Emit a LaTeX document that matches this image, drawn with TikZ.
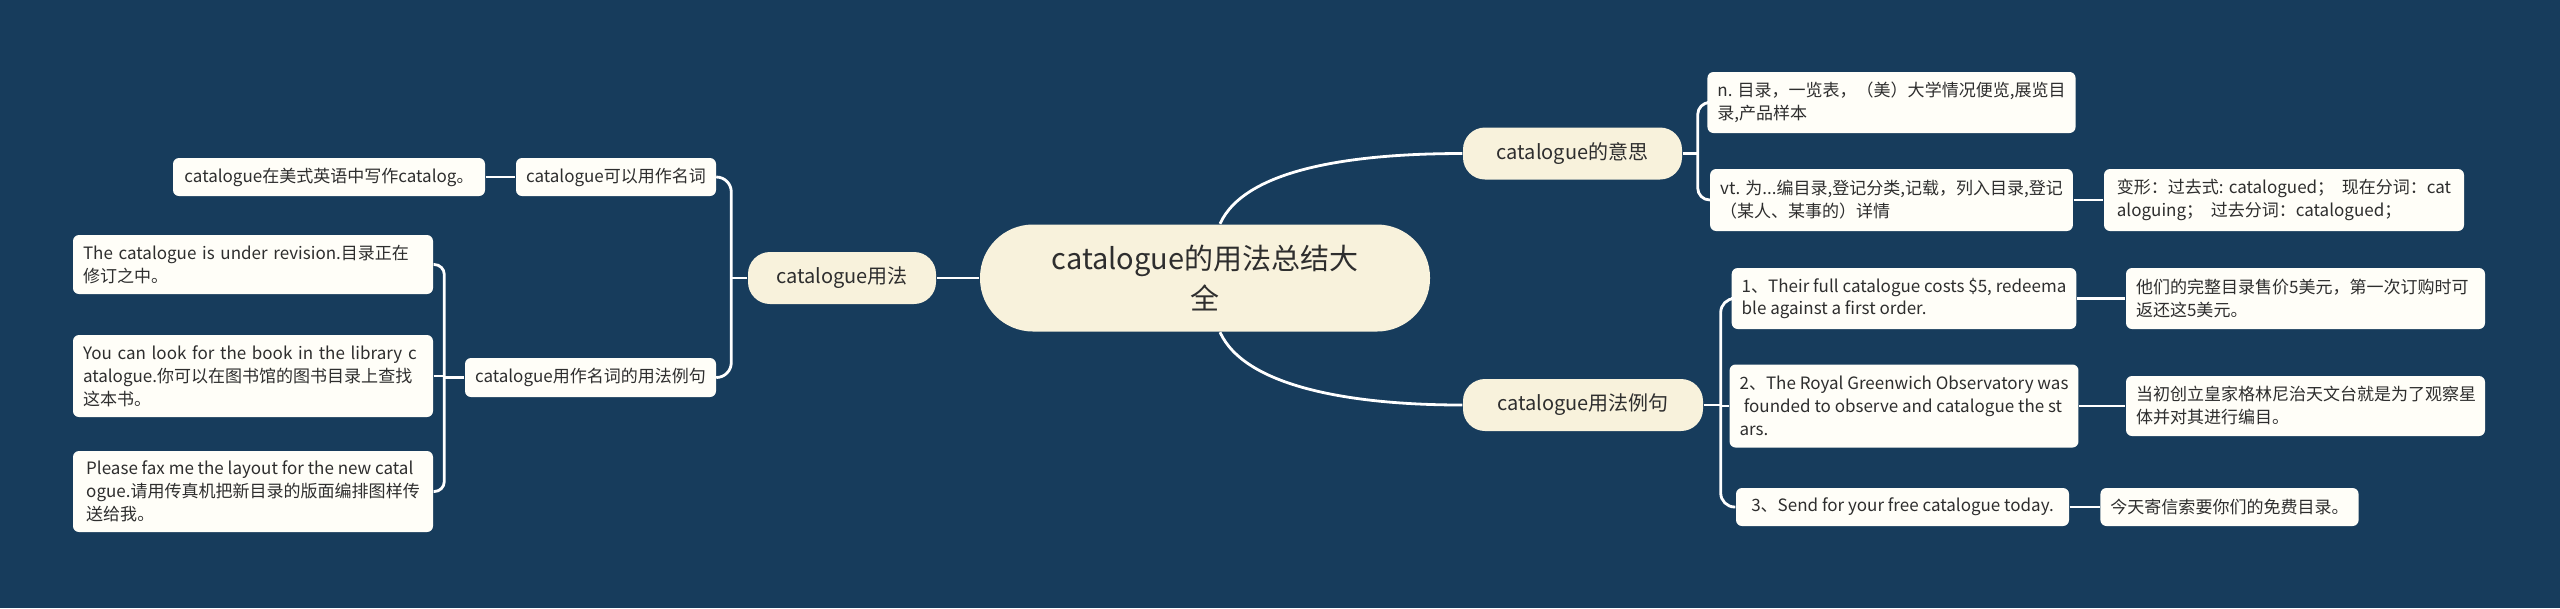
\documentclass[tikz,border=0pt]{standalone}
\usepackage{fontspec}
\setmainfont{Noto Sans CJK SC}
\usepackage{xcolor}
\definecolor{bgblue}{HTML}{173C5C}
\definecolor{cream}{HTML}{F8F2DC}
\definecolor{leaffill}{HTML}{FFFEF8}
\definecolor{inkgray}{HTML}{2E2E2E}

\begin{document}
\begin{tikzpicture}[
    central/.style={fill=cream, rounded corners=0.53cm, minimum width=4.5cm,
                    minimum height=1.07cm, align=center, text=inkgray,
                    font=\fontsize{8.25}{11.4}\selectfont},
    topic/.style={fill=cream, rounded corners=0.22cm, minimum height=0.52cm,
                  inner xsep=0.2cm, text=inkgray,
                  font=\fontsize{5.69}{6.8}\selectfont},
    leaf/.style={fill=leaffill, rounded corners=0.06cm, align=left,
                 inner xsep=0.1cm, inner ysep=0.06cm, text=inkgray,
                 font=\fontsize{4.84}{6.54}\selectfont},
    link/.style={draw=white, line width=0.028cm},
]

% Fondo
\fill[bgblue] (0,0) rectangle (25.6,-6.08);
\useasboundingbox (0,0) rectangle (25.6,-6.08);

% Centro
\node[central] (root) at (12.05, -2.78) {catalogue的用法总结大\\全};

% Rama izquierda
\node[topic, minimum width=1.88cm] (use) at (8.42, -2.78) {catalogue用法};
\node[leaf, minimum width=2.00cm, minimum height=0.38cm] (noun) at (6.16, -1.77) {catalogue可以用作名词};
\node[leaf, minimum width=3.12cm, minimum height=0.38cm] (usnote) at (3.29, -1.77) {catalogue在美式英语中写作catalog。};
\node[leaf, minimum width=2.51cm, minimum height=0.39cm] (nounex) at (5.905, -3.775) {catalogue用作名词的用法例句};

\node[leaf, text width=3.40cm, minimum height=0.59cm] (ex1) at (2.53, -2.645) {The catalogue is under revision.目录正在\\修订之中。};
\node[leaf, text width=3.40cm, minimum height=0.82cm] (ex2) at (2.53, -3.76) {You can look for the book in the library c\\atalogue.你可以在图书馆的图书目录上查找\\这本书。};
\node[leaf, minimum width=3.60cm, minimum height=0.81cm] (ex3) at (2.53, -4.915) {Please fax me the layout for the new catal\\ogue.请用传真机把新目录的版面编排图样传\\送给我。};

% Rama derecha: significado
\node[topic, minimum width=2.19cm] (mean) at (15.725, -1.535) {catalogue的意思};
\node[leaf, minimum width=3.61cm, minimum height=0.61cm] (ndef) at (18.915, -1.025) {n. 目录，一览表，（美）大学情况便览,展览目\\录,产品样本};
\node[leaf, minimum width=3.61cm, minimum height=0.62cm] (vtdef) at (18.915, -2.00) {vt. 为...编目录,登记分类,记载，列入目录,登记\\（某人、某事的）详情};
\node[leaf, minimum width=3.60cm, minimum height=0.62cm] (forms) at (22.84, -2.00) {变形：过去式: catalogued；\ \ 现在分词：cat\\aloguing；\ \ 过去分词：catalogued；};

% Rama derecha: ejemplos
\node[topic, minimum width=2.40cm] (examples) at (15.83, -4.05) {catalogue用法例句};
\node[leaf, minimum width=3.36cm, minimum height=0.61cm] (s1) at (19.04, -2.985) {1、Their full catalogue costs \$5, redeema\\ble against a first order.};
\node[leaf, text width=3.39cm, minimum height=0.61cm] (t1) at (23.055, -2.985) {他们的完整目录售价5美元，第一次订购时可\\返还这5美元。};
\node[leaf, minimum width=3.36cm, minimum height=0.83cm] (s2) at (19.04, -4.06) {2、The Royal Greenwich Observatory was\\\hspace*{0.25em}founded to observe and catalogue the st\\ars.};
\node[leaf, text width=3.39cm, minimum height=0.60cm] (t2) at (23.055, -4.06) {当初创立皇家格林尼治天文台就是为了观察星\\体并对其进行编目。};
\node[leaf, minimum width=3.33cm, minimum height=0.38cm] (s3) at (19.025, -5.07) {3、Send for your free catalogue today.};
\node[leaf, minimum width=2.57cm, minimum height=0.38cm] (t3) at (22.295, -5.07) {今天寄信索要你们的免费目录。};

% Conexiones centro
\draw[link] (root.west) -- (use.east);
\draw[link] ([xshift=0.15cm]root.north) .. controls +(0.25,0.55) and +(-1.1,0) .. (mean.west);
\draw[link] ([xshift=0.15cm]root.south) .. controls +(0.25,-0.55) and +(-1.1,0) .. (examples.west);

% Conexiones izquierda
\coordinate (useBar) at ([xshift=-0.16cm]use.west);
\draw[link] (use.west) -- (useBar);
\draw[link, rounded corners=0.15cm] (noun.east) -| (useBar) |- (nounex.east);
\draw[link] (usnote.east) -- (noun.west);

\coordinate (nxBar) at ([xshift=-0.2cm]nounex.west);
\draw[link] (nounex.west) -- (nxBar);
\draw[link, rounded corners=0.1cm] (ex1.east) -| (nxBar) |- (ex3.east);
\draw[link] (ex2.east) -- (ex2.east -| nxBar);

% Conexiones derecha
\coordinate (meanBar) at ([xshift=0.15cm]mean.east);
\draw[link] (mean.east) -- (meanBar);
\draw[link, rounded corners=0.12cm] (ndef.west) -| (meanBar) |- (vtdef.west);
\draw[link] (vtdef.east) -- (forms.west);

\coordinate (exBar) at ([xshift=0.17cm]examples.east);
\draw[link] (examples.east) -- (exBar);
\draw[link, rounded corners=0.14cm] (s1.west) -| (exBar) |- (s3.west);
\draw[link] (s2.west) -- (s2.west -| exBar);
\draw[link] (s1.east) -- (t1.west);
\draw[link] (s2.east) -- (t2.west);
\draw[link] (s3.east) -- (t3.west);

\end{tikzpicture}
\end{document}
